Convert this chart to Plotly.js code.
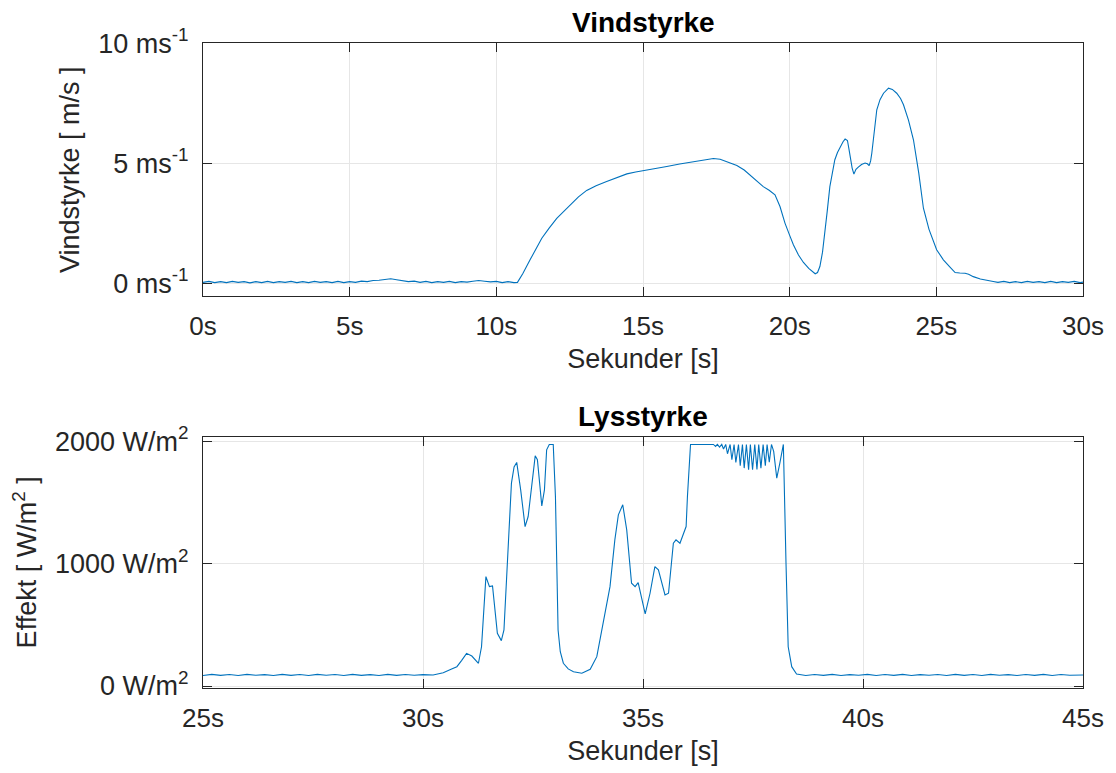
<!DOCTYPE html>
<html>
<head>
<meta charset="utf-8">
<script src="https://cdn.plot.ly/plotly-3.0.1.min.js"></script>
<style>html,body{margin:0;padding:0;background:#fff;}#chart{width:1116px;height:773px;}</style>
</head>
<body>
<div id="chart"></div>
<script>
// ---- Vindstyrke (wind speed, m/s) ----
const windTime = [
 0.0,0.2,0.4,0.6,0.8,1.0,1.2,1.4,1.6,1.8,2.0,2.2,2.4,2.6,2.8,3.0,3.2,3.4,3.6,3.8,4.0,4.2,4.4,4.6,4.8,5.0,5.2,5.4,5.6,5.8,
 6.0,6.2,6.4,6.6,6.8,7.0,7.2,7.4,7.6,7.8,8.0,8.2,8.4,8.6,8.8,9.0,9.2,9.4,9.6,9.8,10.0,10.2,10.4,10.6,10.72,
 10.9,11.15,11.35,11.55,11.8,12.06,12.3,12.51,12.8,13.08,13.4,13.76,14.1,14.45,14.75,15.01,15.4,15.81,16.25,16.72,17.1,17.4,17.63,17.85,
 18.2,18.45,18.65,18.9,19.1,19.3,19.5,19.67,19.84,20.0,20.13,20.3,20.47,20.65,20.87,20.95,21.03,21.12,21.2,21.28,21.37,21.45,21.54,21.63,
 21.72,21.82,21.89,21.97,22.02,22.06,22.13,22.19,22.26,22.34,22.45,22.57,22.65,22.71,22.76,22.8,22.88,22.97,23.08,23.2,23.37,23.5,23.65,
 23.78,23.88,24.05,24.22,24.4,24.56,24.75,25.01,25.24,25.45,25.64,25.8,25.98,26.1,26.26,26.5,26.7,26.94,27.1,
 27.3,27.5,27.7,27.9,28.1,28.3,28.5,28.7,28.9,29.1,29.3,29.5,29.7,29.9,30.0
];
const windSpeed = [
 0.04,0.08,0.03,0.07,0.03,0.08,0.04,0.07,0.02,0.07,0.03,0.08,0.03,0.07,0.04,0.08,0.03,0.07,0.03,0.08,0.04,0.07,0.03,0.08,0.03,0.07,0.04,0.09,0.07,0.12,
 0.13,0.17,0.19,0.15,0.12,0.07,0.09,0.04,0.08,0.03,0.07,0.04,0.08,0.03,0.07,0.05,0.09,0.12,0.09,0.06,0.08,0.03,0.07,0.03,0.04,
 0.40,0.98,1.45,1.88,2.30,2.71,3.00,3.27,3.60,3.87,4.07,4.24,4.41,4.56,4.64,4.69,4.78,4.87,4.97,5.06,5.13,5.20,5.17,5.06,
 4.91,4.72,4.52,4.25,4.03,3.88,3.69,3.20,2.51,2.00,1.60,1.18,0.87,0.62,0.40,0.45,0.70,1.30,2.09,3.00,4.03,4.65,5.15,5.45,
 5.70,5.90,6.01,5.95,5.60,5.28,4.80,4.55,4.75,4.84,4.95,5.01,4.98,4.90,5.10,5.42,6.40,7.23,7.65,7.92,8.13,8.08,7.92,
 7.70,7.44,6.80,5.98,4.60,3.13,2.25,1.40,0.98,0.70,0.45,0.43,0.42,0.38,0.28,0.18,0.12,0.08,0.04,
 0.08,0.03,0.07,0.03,0.08,0.04,0.07,0.03,0.08,0.03,0.07,0.04,0.08,0.03,0.05
];

// ---- Lysstyrke (irradiance, W/m^2) ----
const lightTime = [
 25.0,25.2,25.4,25.6,25.8,26.0,26.2,26.4,26.6,26.8,27.0,27.2,27.4,27.6,27.8,28.0,28.2,28.4,28.6,28.8,29.0,29.2,29.4,29.6,29.8,30.0,30.23,
 30.46,30.65,30.77,30.88,30.99,31.11,31.26,31.33,31.38,31.43,31.51,31.58,31.69,31.78,31.84,31.89,31.94,32.01,32.07,32.13,32.22,32.32,32.39,
 32.47,32.55,32.6,32.7,32.76,32.81,32.87,32.96,33.01,33.04,33.07,33.12,33.19,33.3,33.42,33.61,33.8,33.95,34.1,34.25,34.36,34.44,34.54,
 34.63,34.74,34.82,34.89,34.95,35.05,35.16,35.27,35.35,35.5,35.58,35.69,35.75,35.84,35.98,36.01,36.08,36.6,
 36.65,36.69,36.74,36.79,36.83,36.88,36.92,36.98,37.02,37.07,37.11,37.17,37.21,37.26,37.3,37.35,37.4,37.44,37.49,37.54,37.59,37.63,
 37.68,37.73,37.78,37.82,37.87,37.92,37.97,38.04,38.11,38.19,38.25,38.3,38.38,38.49,
 38.7,38.9,39.1,39.3,39.5,39.7,39.9,40.1,40.3,40.5,40.7,40.9,41.1,41.3,41.5,41.7,41.9,42.1,42.3,42.5,42.7,42.9,43.1,43.3,43.5,43.7,43.9,
 44.1,44.3,44.5,44.7,44.9,45.0
];
const lightPower = [
 86,95,87,94,86,95,88,93,86,95,87,94,86,95,88,94,86,95,87,93,86,95,87,94,88,93,90,
 109,140,158,210,267,245,186,321,600,894,812,818,431,371,458,800,1249,1658,1790,1827,1603,1303,1385,
 1650,1881,1849,1472,1603,1930,1974,1974,1549,1000,458,280,186,140,117,104,137,240,513,812,1194,1399,1481,
 1276,840,812,845,758,589,758,976,949,744,758,1167,1194,1167,1303,1549,1974,1974,
 1958,1974,1952,1974,1936,1974,1898,1974,1849,1974,1827,1974,1800,1974,1781,1974,1767,1974,1767,1974,1770,1974,
 1781,1974,1800,1974,1830,1974,1917,1699,1822,1974,1006,321,158,98,
 86,94,87,95,86,93,88,95,86,94,87,95,86,93,88,94,86,95,87,94,86,95,88,93,86,94,87,
 95,86,94,88,93,90
];

// tick labels
const windTickVals = [0, 5, 10];
const windTickText = ['0 ms<sup>-1</sup>', '5 ms<sup>-1</sup>', '10 ms<sup>-1</sup>'];
const windXVals = [0, 5, 10, 15, 20, 25, 30];
const windXText = ['0s', '5s', '10s', '15s', '20s', '25s', '30s'];
const lightTickVals = [0, 1000, 2000];
const lightTickText = ['0 W/m<sup>2</sup>', '1000 W/m<sup>2</sup>', '2000 W/m<sup>2</sup>'];
const lightXVals = [25, 30, 35, 40, 45];
const lightXText = ['25s', '30s', '35s', '40s', '45s'];

const FONT = 'Liberation Sans, Arial, Helvetica, sans-serif';
const AX = '#262626';
const GRID = '#e6e6e6';
const LINE = '#0072BD';

const traces = [
  {x: windTime, y: windSpeed, type: 'scatter', mode: 'lines', line: {color: LINE, width: 1.1}, xaxis: 'x', yaxis: 'y', hoverinfo: 'skip'},
  {x: lightTime, y: lightPower, type: 'scatter', mode: 'lines', line: {color: LINE, width: 1.1}, xaxis: 'x2', yaxis: 'y2', hoverinfo: 'skip'}
];

function xAx(range, vals, text, anchor) {
  return {
    domain: [0, 1], anchor: anchor, range: range, tickmode: 'array', tickvals: vals, ticktext: text,
    ticks: 'inside', ticklen: 9, tickwidth: 1, tickcolor: AX, showline: true, linecolor: AX, linewidth: 1,
    mirror: 'ticks', showgrid: true, gridcolor: GRID, gridwidth: 1, zeroline: false,
    tickfont: {family: FONT, size: 26, color: AX}, ticklabelstandoff: 7,
    title: {text: 'Sekunder [s]', font: {family: FONT, size: 27, color: AX}, standoff: 8},
    fixedrange: true
  };
}
function yAx(range, vals, text, anchor, dom, title) {
  return {
    domain: dom, anchor: anchor, range: range, tickmode: 'array', tickvals: vals, ticktext: text,
    ticks: 'inside', ticklen: 9, tickwidth: 1, tickcolor: AX, showline: true, linecolor: AX, linewidth: 1,
    mirror: 'ticks', showgrid: true, gridcolor: GRID, gridwidth: 1, zeroline: false,
    tickfont: {family: FONT, size: 27, color: AX}, ticklabelstandoff: 8,
    title: {text: title, font: {family: FONT, size: 27, color: AX}, standoff: 10},
    fixedrange: true
  };
}

const layout = {
  width: 1116, height: 773,
  margin: {l: 203, r: 33, t: 0, b: 0},
  paper_bgcolor: '#ffffff', plot_bgcolor: '#ffffff',
  showlegend: false,
  font: {family: FONT, color: AX},
  xaxis: xAx([0, 30], windXVals, windXText, 'y'),
  yaxis: yAx([-0.53, 10], windTickVals, windTickText, 'x', [0.617, 0.944], 'Vindstyrke [ m/s ]'),
  xaxis2: xAx([25, 45], lightXVals, lightXText, 'y2'),
  yaxis2: yAx([-16, 2037], lightTickVals, lightTickText, 'x2', [0.110, 0.435], 'Effekt [ W/m<sup>2</sup> ]'),
  annotations: [
    {text: '<b>Vindstyrke</b>', xref: 'paper', yref: 'paper', x: 0.5, y: 0.944, xanchor: 'center', yanchor: 'bottom', yshift: 3, showarrow: false,
     font: {family: FONT, size: 28, color: '#000'}},
    {text: '<b>Lysstyrke</b>', xref: 'paper', yref: 'paper', x: 0.5, y: 0.435, xanchor: 'center', yanchor: 'bottom', yshift: 3, showarrow: false,
     font: {family: FONT, size: 28, color: '#000'}}
  ]
};

Plotly.newPlot('chart', traces, layout, {staticPlot: true, displayModeBar: false});
</script>
</body>
</html>
